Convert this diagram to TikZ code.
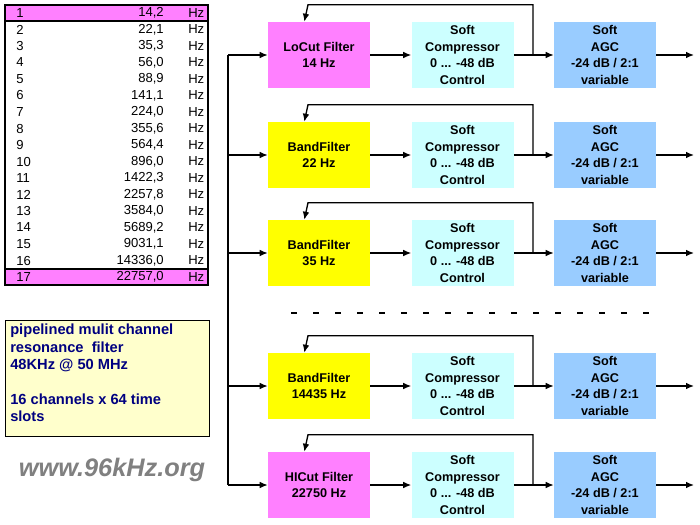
\documentclass[tikz,border=0pt]{standalone}
\usepackage{fontspec}
\setmainfont{Liberation Sans}
\usetikzlibrary{arrows.meta}
\definecolor{mag}{RGB}{255,128,255}
\definecolor{yel}{RGB}{255,255,0}
\definecolor{cyn}{RGB}{204,255,255}
\definecolor{blu}{RGB}{153,204,255}
\definecolor{note}{RGB}{255,255,204}
\definecolor{notetext}{RGB}{0,0,128}
\begin{document}
\begin{tikzpicture}[x=0.75pt,y=-0.75pt,
  blk/.style={minimum width=76.5pt,minimum height=49.5pt,align=center,font=\bfseries\fontsize{9.5}{12.3}\selectfont,inner sep=0pt},
  arr/.style={-{Latex[length=6pt,width=5pt]},line width=1pt},
  ln/.style={line width=1pt},
  tbl/.style={font=\fontsize{9.8}{10}\selectfont,inner sep=0pt}]
\useasboundingbox (0,0) rectangle (700,525);
\fill[white] (0,0) rectangle (700,525);
% table
\fill[mag] (5,5) rectangle (208,21);
\fill[mag] (5,269) rectangle (208,285);
\draw[line width=0.8pt] (5,5) rectangle (208,285);
\draw[line width=0.8pt] (5,21) -- (208,21);
\draw[line width=0.8pt] (5,269) -- (208,269);
\foreach \n/\v [count=\i] in {1/{14,2},2/{22,1},3/{35,3},4/{56,0},5/{88,9},6/{141,1},7/{224,0},8/{355,6},9/{564,4},10/{896,0},11/{1422,3},12/{2257,8},13/{3584,0},14/{5689,2},15/{9031,1},16/{14336,0},17/{22757,0}}{
  \pgfmathsetmacro\yy{13+(\i-1)*16.5}
  \node[tbl,anchor=west] (n\i) at (16,\yy) {\n};
  \node[tbl,anchor=east] (v\i) at (164,\yy) {\v};
  \node[tbl,anchor=west] (h\i) at (188,\yy) {Hz};
}
% note
\node[draw,fill=note,line width=0.8pt,minimum width=153pt,minimum height=87pt,anchor=north west,inner sep=3pt] (note) at (5,320) {};
\node[anchor=north west,align=left,text=notetext,font=\bfseries\fontsize{11}{13}\selectfont,inner sep=0pt] (notetxt) at (10,324) {pipelined mulit channel\\resonance\ \ filter\\48KHz @ 50 MHz\\[13pt]16 channels x 64 time\\slots};
\node[anchor=center,text=gray,font=\bfseries\itshape\fontsize{19}{20}\selectfont] (www) at (112,470) {www.96kHz.org};
% blocks
\foreach \r/\y/\c/\t in {1/55/mag/{LoCut Filter\\14 Hz},2/155/yel/{BandFilter\\22 Hz},3/253/yel/{BandFilter\\35 Hz},4/386/yel/{BandFilter\\14435 Hz},5/485/mag/{HICut Filter\\22750 Hz}}{
  \node[blk,fill=\c] (f\r) at (319,\y) {\t};
  \node[blk,fill=cyn] (c\r) at (462.5,\y) {Soft\\Compressor\\0 ... -48 dB\\Control};
  \node[blk,fill=blu] (a\r) at (605,\y) {Soft\\AGC\\-24 dB / 2:1\\variable};
  \coordinate (in\r) at (228,\y);
  \coordinate (tap\r) at (533,\y);
  \coordinate (out\r) at (694,\y);
  \draw[arr] (in\r) -- (f\r);
  \draw[arr] (f\r) -- (c\r);
  \draw[arr] (c\r) -- (a\r);
  \draw[arr] (a\r) -- (out\r);
  \draw[arr] (tap\r) |- ([shift={(-11,-17)}]f\r.north) -- ([xshift=-11]f\r.north);
}
\draw[ln] (in1) -- (in5);
\draw[line width=1pt,dash pattern=on 4.5pt off 12pt] (291,313) -- (650,313);
\end{tikzpicture}
\end{document}
